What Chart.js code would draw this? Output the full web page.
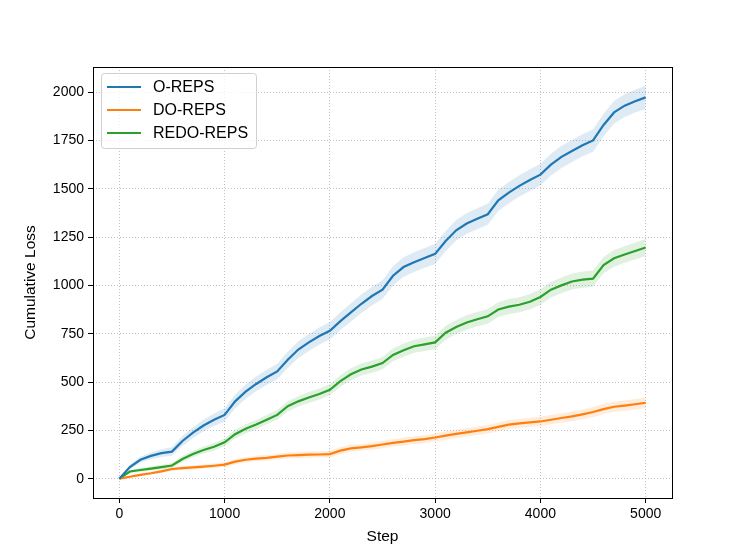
<!DOCTYPE html>
<html>
<head>
<meta charset="utf-8">
<script src="https://cdn.jsdelivr.net/npm/chart.js@4.4.1/dist/chart.umd.min.js"></script>
<style>
  html, body { margin: 0; padding: 0; background: #fff; }
  #wrap { width: 747px; height: 560px; }
</style>
</head>
<body>
<div id="wrap"><canvas id="lossChart" width="747" height="560"></canvas></div>
<script>
// Steps (x values)
var steps = [0,100,200,300,400,500,600,700,800,900,1000,1100,1200,1300,1400,1500,1600,1700,1800,1900,2000,
  2100,2200,2300,2400,2500,2600,2700,2800,2900,3000,3100,3200,3300,3400,3500,3600,3700,3800,3900,4000,
  4100,4200,4300,4400,4500,4600,4700,4800,4900,5000];

// Mean cumulative loss
var oReps = [0,60,98,118,132,140,195,238,275,305,330,400,450,490,525,555,615,668,705,738,765,
  815,860,905,945,978,1050,1095,1120,1142,1163,1230,1285,1320,1345,1368,1440,1480,1515,1545,1573,
  1625,1665,1695,1725,1750,1830,1895,1930,1953,1973];
var doReps = [0,10,20,28,38,50,55,58,62,67,73,88,98,104,108,114,120,122,124,125,127,
  145,157,162,168,177,185,192,199,205,213,223,232,240,248,256,268,280,286,291,296,
  305,314,322,333,345,360,372,378,385,393];
var redoReps = [0,37,45,52,60,68,102,128,148,165,188,230,258,280,305,330,375,400,420,438,460,
  505,540,565,580,598,640,665,685,695,705,755,785,808,825,840,875,890,900,915,940,
  978,1000,1020,1030,1035,1105,1140,1160,1178,1196];

// Spread (half width of shaded band)
var oRepsStd = [0,12,16,18,20,22,26,28,30,32,34,36,37,38,39,40,42,43,44,44,45,
  46,47,48,48,49,50,50,51,51,52,52,53,53,54,54,55,55,55,56,56,56,57,57,57,58,58,59,59,59,60];
var doRepsStd = [0,4,6,7,8,9,10,10,11,11,12,13,13,14,14,15,15,16,16,16,17,
  17,18,18,18,19,19,20,20,20,21,21,21,22,22,22,23,23,23,24,24,24,25,25,25,26,26,26,27,27,27];
var redoRepsStd = [0,8,10,11,12,13,16,17,18,19,20,22,23,24,24,25,27,27,28,28,29,
  30,31,31,32,32,33,34,34,35,35,36,36,37,37,38,38,39,39,40,40,40,41,41,42,42,42,43,43,44,44];

var xTicks = [0,1000,2000,3000,4000,5000];
var yTicks = [0,250,500,750,1000,1250,1500,1750,2000];

var seriesNames = ['O-REPS','DO-REPS','REDO-REPS'];
var seriesColors = ['#1f77b4','#ff7f0e','#2ca02c'];
var bandColors = ['rgba(31,119,180,0.15)','rgba(255,127,14,0.15)','rgba(44,160,44,0.15)'];

function pts(vals) {
  return steps.map(function(s, i) { return {x: s, y: vals[i]}; });
}

var means = [oReps, doReps, redoReps];
var stds = [oRepsStd, doRepsStd, redoRepsStd];
var datasets = [];
// bands
means.forEach(function(m, k) {
  var sd = stds[k];
  datasets.push({
    label: seriesNames[k] + ' lo', isBand: true, order: 2,
    data: pts(m.map(function(v, i) { return v - sd[i]; })),
    borderWidth: 0, pointRadius: 0, fill: false, tension: 0
  });
  datasets.push({
    label: seriesNames[k] + ' hi', isBand: true, order: 2,
    data: pts(m.map(function(v, i) { return v + sd[i]; })),
    borderWidth: 0, pointRadius: 0, fill: '-1', backgroundColor: bandColors[k], tension: 0
  });
});
// lines
means.forEach(function(m, k) {
  datasets.push({
    label: seriesNames[k], order: 0,
    data: pts(m),
    borderColor: seriesColors[k], borderWidth: 2.2, pointRadius: 0, fill: false, tension: 0
  });
});

var fontFam = '"Liberation Sans", Arial, sans-serif';

// frame around the axes + legend box
var framePlugin = {
  id: 'frame',
  afterDraw: function(chart) {
    var ctx = chart.ctx, a = chart.chartArea;
    ctx.save();
    ctx.strokeStyle = '#000';
    ctx.lineWidth = 1;
    ctx.strokeRect(a.left + 0.5, a.top + 0.5, a.right - a.left, a.bottom - a.top);

    // legend
    var bx = 101.5, by = 73.5, bw = 155, bh = 75, r = 3;
    ctx.beginPath();
    ctx.moveTo(bx + r, by);
    ctx.arcTo(bx + bw, by, bx + bw, by + bh, r);
    ctx.arcTo(bx + bw, by + bh, bx, by + bh, r);
    ctx.arcTo(bx, by + bh, bx, by, r);
    ctx.arcTo(bx, by, bx + bw, by, r);
    ctx.closePath();
    ctx.fillStyle = 'rgba(255,255,255,0.8)';
    ctx.fill();
    ctx.strokeStyle = '#d0d0d0';
    ctx.stroke();

    ctx.font = '16px ' + fontFam;
    ctx.textBaseline = 'middle';
    var rows = chart.data.datasets.filter(function(d) { return !d.isBand; });
    rows.forEach(function(d, i) {
      var y = 87 + i * 23;
      ctx.strokeStyle = d.borderColor;
      ctx.lineWidth = 2.2;
      ctx.beginPath();
      ctx.moveTo(107, y);
      ctx.lineTo(141, y);
      ctx.stroke();
      ctx.fillStyle = '#000';
      ctx.fillText(d.label, 153, y + 1);
    });
    ctx.restore();
  }
};

var ctx = document.getElementById('lossChart').getContext('2d');
var lossChart = new Chart(ctx, {
  type: 'line',
  data: { datasets: datasets },
  plugins: [framePlugin],
  options: {
    responsive: false,
    animation: false,
    layout: { padding: { left: 0, top: 67, right: 75, bottom: 0 } },
    plugins: {
      legend: { display: false },
      tooltip: { enabled: false }
    },
    scales: {
      x: {
        type: 'linear',
        min: -250, max: 5250,
        afterFit: function(s) { s.height = 62; },
        afterBuildTicks: function(s) { s.ticks = xTicks.map(function(v) { return {value: v}; }); },
        grid: { color: '#b0b0b0', lineWidth: 0.8, tickColor: '#000', tickLength: 5, tickWidth: 1, tickBorderDash: [] },
        border: { display: false, dash: [1, 2] },
        ticks: { color: '#000', font: { size: 14, family: fontFam }, padding: 3, maxRotation: 0,
          callback: function(v) { return v; } },
        title: { display: true, text: 'Step', color: '#000', font: { size: 15.5, family: fontFam },
          padding: { top: 0, bottom: 13.5 } }
      },
      y: {
        type: 'linear',
        min: -100, max: 2130,
        afterFit: function(s) { s.width = 93; },
        afterBuildTicks: function(s) { s.ticks = yTicks.map(function(v) { return {value: v}; }); },
        grid: { color: '#b0b0b0', lineWidth: 0.8, tickColor: '#000', tickLength: 5, tickWidth: 1, tickBorderDash: [] },
        border: { display: false, dash: [1, 2] },
        ticks: { color: '#000', font: { size: 14, family: fontFam }, padding: 4,
          callback: function(v) { return v; } },
        title: { display: true, text: 'Cumulative Loss', color: '#000', font: { size: 15.5, family: fontFam },
          padding: { top: 21, bottom: 0 } }
      }
    }
  }
});
</script>
</body>
</html>
